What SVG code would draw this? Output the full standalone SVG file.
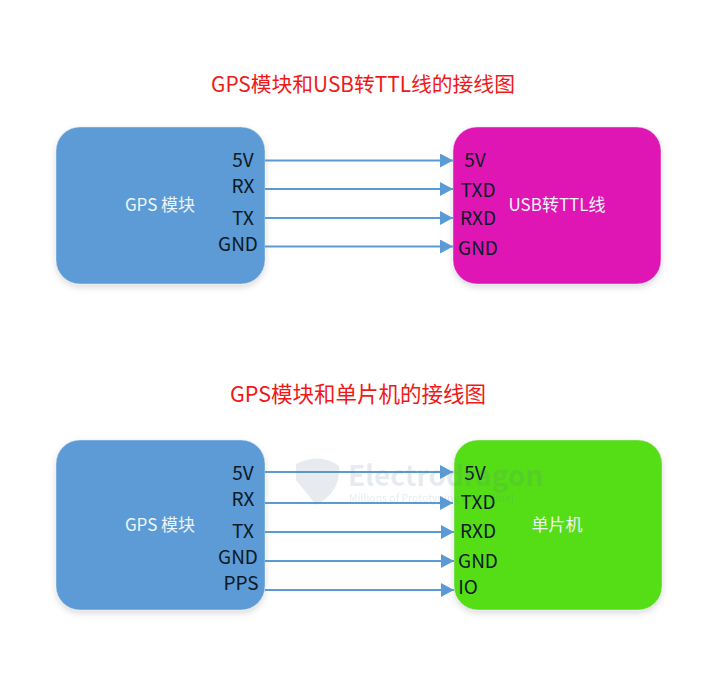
<svg xmlns="http://www.w3.org/2000/svg" width="713" height="690" viewBox="0 0 713 690">
<style>
text{font-family:"Noto Sans CJK SC","Noto Sans",sans-serif}
.t{font-size:20.8px;fill:#f01818;text-anchor:middle}
.p{font-size:19px;fill:#0c1a26;text-anchor:middle}
.n{font-size:17px;fill:#eef4fb;text-anchor:middle}
.c{stroke:#5b9bd5;stroke-width:2.200;fill:none;marker-end:url(#a)}
.b{filter:url(#s);stroke:#dfe6ee;stroke-width:.5}
</style>
<defs>
<marker id="a" markerUnits="userSpaceOnUse" markerWidth="13" markerHeight="14" refX="13" refY="7" orient="auto"><path d="M0 0L13 7L0 14Z" fill="#5b9bd5"/></marker>
<filter id="s" x="-5%" y="-5%" width="110%" height="112%"><feDropShadow dx="0" dy="3" stdDeviation="3" flood-color="#000" flood-opacity=".14"/></filter>
</defs>
<rect width="713" height="690" fill="#fff"/>
<text class="t" x="363" y="92">GPS模块和USB转TTL线的接线图</text>
<text class="t" x="358" y="402" style="font-size:21.500px">GPS模块和单片机的接线图</text>
<g id="node-gps1"><rect class="b" x="56" y="127" width="209" height="157" rx="24" fill="#5b9bd5"/>
<text class="n" x="160" y="211">GPS 模块</text>
<text class="p" x="243" y="167">5V</text><text class="p" x="243" y="193">RX</text><text class="p" x="243" y="225">TX</text><text class="p" x="238" y="251">GND</text></g>
<g id="node-usb"><rect class="b" x="453" y="127" width="208" height="157" rx="24" fill="#e014b4"/>
<text class="n" x="557" y="211">USB转TTL线</text>
<text class="p" x="475" y="167">5V</text><text class="p" x="478" y="197">TXD</text><text class="p" x="478" y="225">RXD</text><text class="p" x="478" y="255">GND</text></g>
<g id="node-gps2"><rect class="b" x="56" y="440" width="209" height="170" rx="24" fill="#5b9bd5"/>
<text class="n" x="160" y="531">GPS 模块</text>
<text class="p" x="243" y="480">5V</text><text class="p" x="243" y="506">RX</text><text class="p" x="243" y="538">TX</text><text class="p" x="238" y="564">GND</text><text class="p" x="241" y="590">PPS</text></g>
<g id="node-mcu"><rect class="b" x="454" y="440" width="208" height="170" rx="24" fill="#55dd12"/>
<text class="n" x="557" y="531">单片机</text>
<text class="p" x="475" y="480">5V</text><text class="p" x="478" y="509">TXD</text><text class="p" x="478" y="538">RXD</text><text class="p" x="478" y="568">GND</text><text class="p" x="468" y="594">IO</text></g>
<g id="connectors">
<path class="c" d="M265 160.500H453"/><path class="c" d="M265 189H453"/><path class="c" d="M265 218H453"/><path class="c" d="M265 246.500H453"/>
<path class="c" d="M265 472H453"/><path class="c" d="M265 503H453"/><path class="c" d="M265 532H454"/><path class="c" d="M265 561H454"/><path class="c" d="M265 590H454"/>
</g>
<g id="watermark" opacity=".14" fill="#5b7a99"><path d="M296 464Q320 452 339 466Q341 492 316 505L296 480Z"/>
<text x="348" y="486" font-size="28" font-weight="700">Electrodragon</text><text x="349" y="502" font-size="10.500">Millions of Prototyping Parts [line]</text></g>
</svg>
